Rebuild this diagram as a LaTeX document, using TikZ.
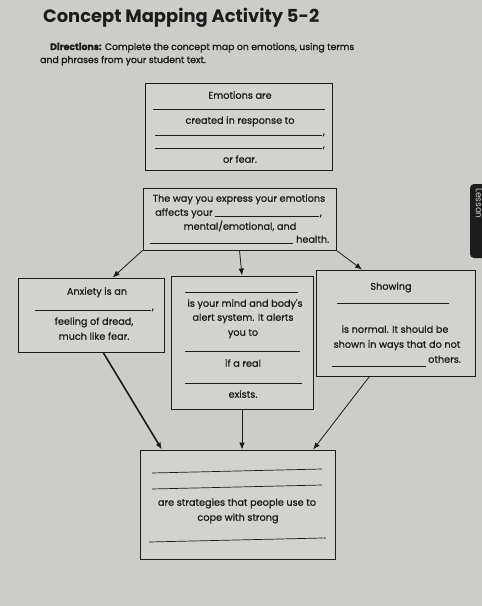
\documentclass[tikz,border=0pt]{standalone}
\usepackage{fontspec}
\setmainfont{Poppins}
\newfontfamily\medfont{Poppins}[FakeBold=0.9]
\newfontfamily\dirfont{Poppins}[FakeBold=1.6]
\usetikzlibrary{positioning, arrows.meta, calc}
\definecolor{paper}{RGB}{204,204,201}
\definecolor{ink}{RGB}{28,28,28}

\begin{document}
\begin{tikzpicture}[x=1pt, y=-1pt, font=\medfont\fontsize{9.7}{11}\selectfont, text=ink,
    box/.style={draw=ink, line width=0.9pt, fill=white!12!paper, inner sep=0pt},
    blank/.style={draw=ink, line width=0.7pt},
    txt/.style={anchor=mid, inner sep=0pt},
    link/.style={draw=ink, line width=0.8pt, -{Latex[length=7pt,width=5.5pt]}}]
    \useasboundingbox[fill=paper] (0,0) rectangle (482,606);

    % heading
    \node[anchor=base west, inner sep=0pt, font=\fontsize{17.9}{21}\selectfont\bfseries] (title) at (43,22) {Concept Mapping Activity 5-2};
    \node[anchor=base west, inner sep=0pt, font=\dirfont\fontsize{9.3}{11}\selectfont] (dir1) at (50,50) {\textbf{Directions:} Complete the concept map on emotions, using terms};
    \node[anchor=base west, inner sep=0pt, font=\dirfont\fontsize{9.3}{11}\selectfont] (dir2) at (40,63) {and phrases from your student text.};

    % tab at the page edge
    \fill[ink, rounded corners=4pt] (470,184) rectangle (492,258);
    \node[rotate=-90, anchor=west, text=paper, inner sep=0pt, font=\fontsize{9}{10}\selectfont] (tab) at (479,188) {Lesson};

    % boxes
    \node[box, minimum width=187pt, minimum height=87pt] (emo) at (238.5,126.5) {};
    \node[box, minimum width=193pt, minimum height=62pt] (expr) at (239.5,219) {};
    \node[box, minimum width=146pt, minimum height=74pt] (anx) at (91,315) {};
    \node[box, minimum width=142pt, minimum height=133pt] (alarm) at (242,342.5) {};
    \node[box, minimum width=159pt, minimum height=106pt] (show) at (395.5,323) {};
    \node[box, minimum width=195pt, minimum height=109pt] (cope) at (237.5,504.5) {};

    % Emotions are ...
    \node[txt] (e1) at (240,96) {Emotions are};
    \draw[blank] (153,109) -- (325,109);
    \node[txt] (e2) at (240,121) {created in response to};
    \draw[blank] (155,135) -- (322,135) node[right, inner sep=0.5pt] {,};
    \draw[blank] (155,148) -- (322,148) node[right, inner sep=0.5pt] {,};
    \node[txt] (e3) at (240,160) {or fear.};

    % The way you express ...
    \node[txt] (x1) at (239,199) {The way you express your emotions};
    \node[txt, anchor=mid west] (x2) at (155,213) {affects your};
    \draw[blank] (215,216) -- (319,216) node[right, inner sep=0.5pt] {,};
    \node[txt] (x3) at (240,227) {mental/emotional, and};
    \draw[blank] (150,243) -- (293,243);
    \node[txt, anchor=mid west] (x4) at (296,240) {health.};

    % Anxiety
    \node[txt] (a1) at (97,292) {Anxiety is an};
    \draw[blank] (35,310) -- (151,310) node[right, inner sep=0.5pt] {,};
    \node[txt] (a2) at (94,322) {feeling of dread,};
    \node[txt] (a3) at (94,337) {much like fear.};

    % alert system
    \draw[blank] (185,292) -- (298,292);
    \node[txt] (f1) at (245,304) {is your mind and body's};
    \node[txt] (f2) at (243,318) {alert system. It alerts};
    \node[txt] (f3) at (243,333) {you to};
    \draw[blank] (185,351) -- (300,351);
    \node[txt] (f4) at (243,364) {if a real};
    \draw[blank] (185,383) -- (302,383);
    \node[txt] (f5) at (243,395) {exists.};

    % Showing
    \node[txt] (s1) at (391,287) {Showing};
    \draw[blank] (337,303) -- (449,303);
    \node[txt] (s2) at (395,330) {is normal. It should be};
    \node[txt] (s3) at (397,345) {shown in ways that do not};
    \draw[blank] (332,366) -- (426,366);
    \node[txt, anchor=mid west] (s4) at (428,360) {others.};

    % coping
    \draw[blank] (152,473) -- (322,469);
    \draw[blank] (152,489) -- (322,485);
    \node[txt] (c1) at (237,503) {are strategies that people use to};
    \node[txt] (c2) at (238,518) {cope with strong};
    \draw[blank] (149,542) -- (323,538) node[right, inner sep=0.5pt] {.};

    % arrows
    \draw[link] (expr.south west) -- (anx.60);
    \draw[link] (expr.south) -- (alarm.north);
    \draw[link] (expr.south east) -- (show.122);
    \draw[link, line width=1.6pt] (anx.-72) -- (cope.144);
    \draw[link] (alarm.south) -- (alarm.south |- cope.north);
    \draw[link] (show.-116) -- (cope.36);
\end{tikzpicture}
\end{document}
